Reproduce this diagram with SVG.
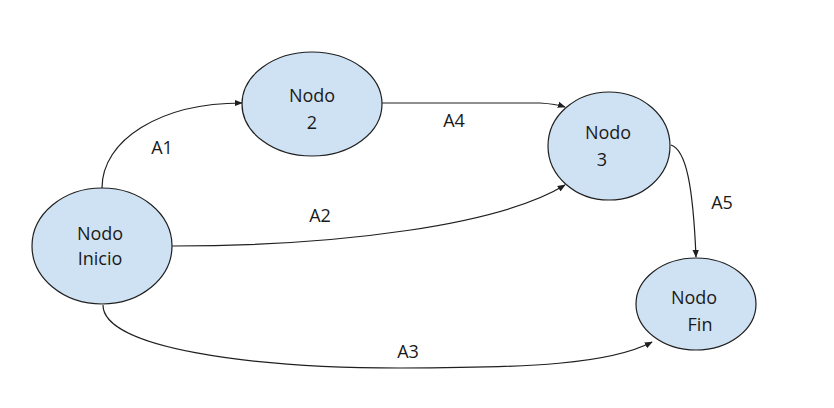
<svg xmlns="http://www.w3.org/2000/svg" width="834" height="408" viewBox="0 0 834 408">
  <style>
    .node ellipse { fill: #cfe2f3; stroke: #1f1f1f; stroke-width: 1.2; }
    .node text, .label { font-family: "Open Sans", "Liberation Sans", sans-serif; font-size: 18px; fill: #1a1a1a; text-anchor: middle; }
    .edge { fill: none; stroke: #1f1f1f; stroke-width: 1.2; marker-end: url(#arrow); }
  </style>
  <defs>
    <marker id="arrow" viewBox="0 0 10 10" refX="9" refY="5" markerWidth="8" markerHeight="8" markerUnits="userSpaceOnUse" orient="auto">
      <path d="M0,1 L10,5 L0,9 Z" fill="#1f1f1f"/>
    </marker>
  </defs>
  <rect width="834" height="408" fill="#ffffff"/>

  <g id="connectors">
    <path id="a1" class="edge" d="M102,188 C102,140 160,103 242,103"/>
    <path id="a4" class="edge" d="M382,103 L540,103 Q556,104 565,107"/>
    <path id="a2" class="edge" d="M172,246 C340,246 500,225 565,185"/>
    <path id="a3" class="edge" d="M103,305 C103,348 250,368 400,368 C530,368 610,364 652,342"/>
    <path id="a5" class="edge" d="M671,145 C686,150 693,185 696,257"/>
  </g>

  <g id="edge-labels">
    <text class="label" x="162" y="154">A1</text>
    <text class="label" x="320" y="222">A2</text>
    <text class="label" x="408" y="358">A3</text>
    <text class="label" x="454" y="127">A4</text>
    <text class="label" x="722" y="209">A5</text>
  </g>

  <g id="nodo-inicio" class="node">
    <ellipse cx="102" cy="246" rx="70" ry="58"/>
    <text x="100" y="240">Nodo</text>
    <text x="100" y="265">Inicio</text>
  </g>

  <g id="nodo-2" class="node">
    <ellipse cx="312" cy="104" rx="70" ry="52"/>
    <text x="312" y="102">Nodo</text>
    <text x="312" y="129">2</text>
  </g>

  <g id="nodo-3" class="node">
    <ellipse cx="609" cy="146" rx="61" ry="54"/>
    <text x="608" y="139">Nodo</text>
    <text x="602" y="166">3</text>
  </g>

  <g id="nodo-fin" class="node">
    <ellipse cx="696" cy="304" rx="60" ry="46"/>
    <text x="694" y="304">Nodo</text>
    <text x="700" y="331">Fin</text>
  </g>
</svg>
